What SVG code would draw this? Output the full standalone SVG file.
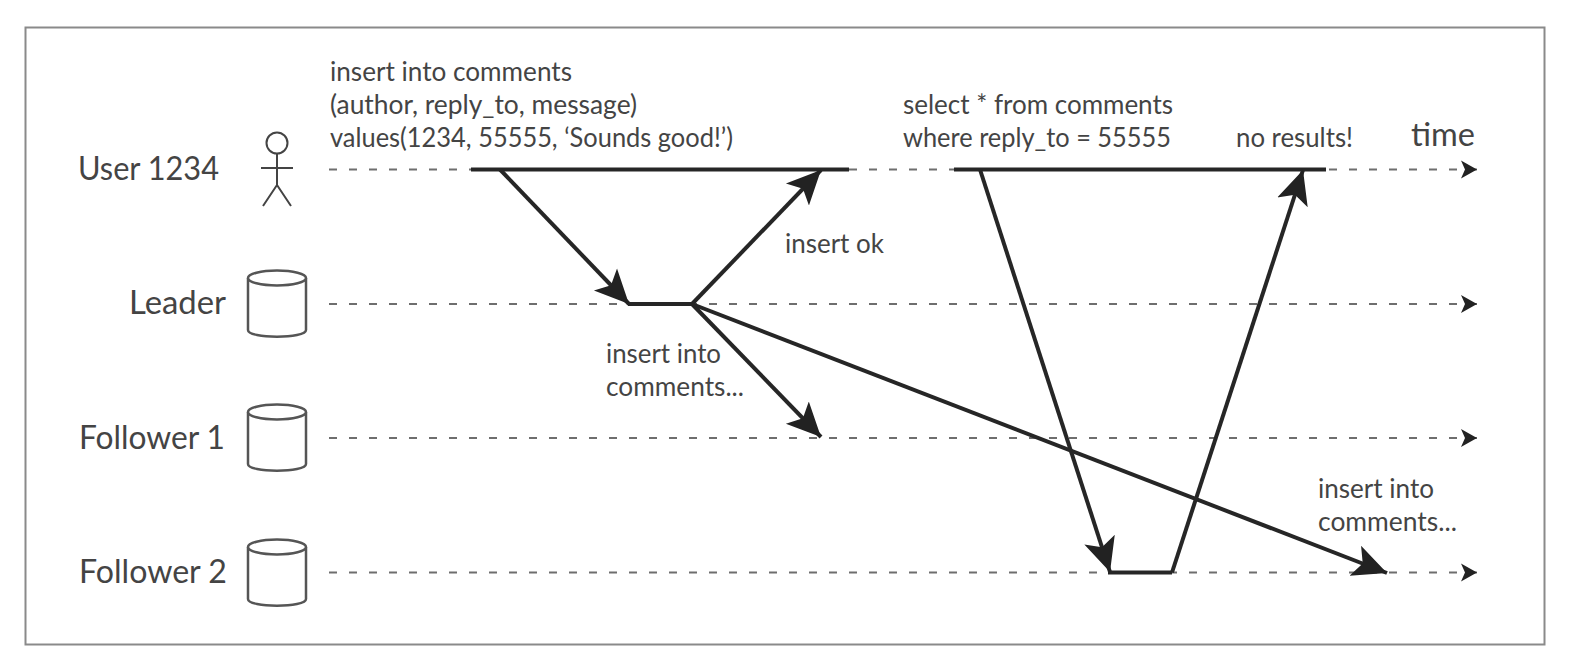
<svg xmlns="http://www.w3.org/2000/svg" width="1570" height="670" viewBox="0 0 1570 670">
<style>
text{font-family:Lato,"Open Sans",sans-serif;fill:#444}
.l{font-size:33px}
.s{font-size:26px}
.d{stroke:#6e6e6e;stroke-width:2;stroke-dasharray:8 12;fill:none}
.m{stroke:#262626;stroke-width:4;fill:none}
.a{stroke:#262626;stroke-width:4;fill:none;marker-end:url(#big)}
.c{stroke:#555;stroke-width:2.500;fill:#fff}
</style>
<defs>
<marker id="big" markerUnits="userSpaceOnUse" markerWidth="36" markerHeight="36" refX="34" refY="18" orient="auto"><path d="M0 2L34 18L0 34L8 18Z" fill="#222"/></marker>
<marker id="small" markerUnits="userSpaceOnUse" markerWidth="18" markerHeight="20" refX="16" refY="10" orient="auto"><path d="M0 1L16 10L0 19L4 10Z" fill="#222"/></marker>
<g id="cyl"><path class="c" d="M-29 -26V26C-29 35 29 35 29 26V-26"/><ellipse class="c" cx="0" cy="-26" rx="29" ry="7.500"/></g>
</defs>
<rect x="25.500" y="27.500" width="1519" height="617" fill="#fff" stroke="#8a8a8a" stroke-width="2"/>
<g id="connectors">
<path class="d" d="M329 169.500H1477" marker-end="url(#small)"/>
<path class="d" d="M329 304H1477" marker-end="url(#small)"/>
<path class="d" d="M329 438H1477" marker-end="url(#small)"/>
<path class="d" d="M329 572.500H1477" marker-end="url(#small)"/>
<path class="m" d="M471 169.500H849M954 169.500H1326M628 304H692M1108 572.500H1172"/>
<path class="a" d="M500 169.500L629 304"/>
<path class="a" d="M692 304L821 170"/>
<path class="a" d="M692 304L821 437"/>
<path class="a" d="M692 304L1387 573"/>
<path class="a" d="M980 169.500L1110 572"/>
<path class="a" d="M1172 572.500L1303 170"/>
</g>
<g id="user"><text class="l" x="78" y="180" textLength="141" lengthAdjust="spacingAndGlyphs">User 1234</text>
<g fill="none" stroke="#444" stroke-width="2"><circle cx="277" cy="143" r="10.500"/><path d="M277 154V185M261 168H293M277 185L263 206M277 185L291 206"/></g></g>
<g id="leader"><text class="l" x="129" y="314" textLength="97" lengthAdjust="spacingAndGlyphs">Leader</text><use href="#cyl" x="277" y="304"/></g>
<g id="follower1"><text class="l" x="79" y="449" textLength="146" lengthAdjust="spacingAndGlyphs">Follower 1</text><use href="#cyl" x="277" y="438"/></g>
<g id="follower2"><text class="l" x="79" y="583" textLength="148" lengthAdjust="spacingAndGlyphs">Follower 2</text><use href="#cyl" x="277" y="573"/></g>
<g id="labels">
<text class="s" x="330" y="81" textLength="242" lengthAdjust="spacingAndGlyphs">insert into comments</text>
<text class="s" x="330" y="114" textLength="307" lengthAdjust="spacingAndGlyphs">(author, reply_to, message)</text>
<text class="s" x="330" y="147" textLength="403" lengthAdjust="spacingAndGlyphs">values(1234, 55555, ‘Sounds good!’)</text>
<text class="s" x="903" y="114" textLength="270" lengthAdjust="spacingAndGlyphs">select * from comments</text>
<text class="s" x="903" y="147" textLength="268" lengthAdjust="spacingAndGlyphs">where reply_to = 55555</text>
<text class="s" x="1236" y="147" textLength="117" lengthAdjust="spacingAndGlyphs">no results!</text>
<text x="1411" y="146" font-size="32" textLength="64" lengthAdjust="spacingAndGlyphs">time</text>
<text class="s" x="785" y="253" textLength="99" lengthAdjust="spacingAndGlyphs">insert ok</text>
<text class="s" x="606" y="363" textLength="115" lengthAdjust="spacingAndGlyphs">insert into</text>
<text class="s" x="606" y="396" textLength="138" lengthAdjust="spacingAndGlyphs">comments...</text>
<text class="s" x="1318" y="498" textLength="116" lengthAdjust="spacingAndGlyphs">insert into</text>
<text class="s" x="1318" y="531" textLength="139" lengthAdjust="spacingAndGlyphs">comments...</text>
</g>
</svg>
